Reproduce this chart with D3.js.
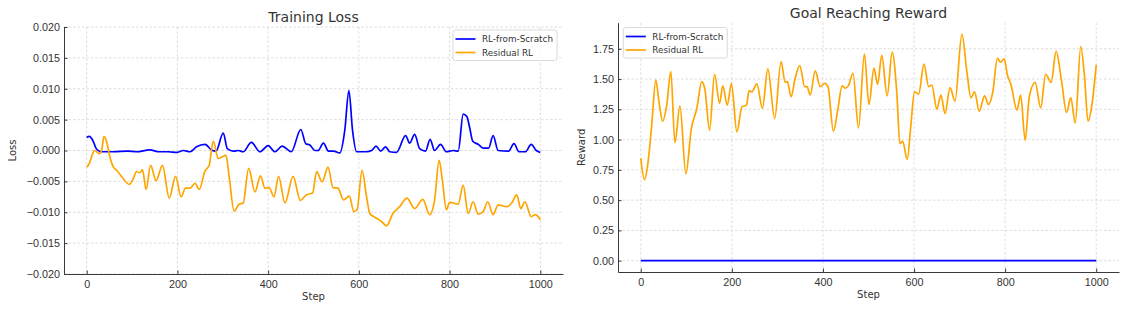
<!DOCTYPE html>
<html lang="en">
<head>
  <meta charset="UTF-8">
  <title>Training Loss / Goal Reaching Reward</title>
  <script src="https://cdn.jsdelivr.net/npm/d3@7"></script>
  <style>
    * { margin: 0; padding: 0; }
    body { background: #fff; }
    svg { display: block; font-family: "DejaVu Sans", sans-serif; }
    .grid line { stroke: #d4d4d4; stroke-width: 0.8; stroke-dasharray: 2.5,2; }
    .axis path, .axis line { stroke: #3a3a3a; }
    .axis text { fill: #333; font-size: 10.8px; }
  </style>
</head>
<body>
  <div id="chart"></div>
  <script>
  // ---- data ----
  var scratchLossStep = [0,6,13,22,33,60,90,110,139,160,180,198,213,228,242,261,275,285,301,310,323,334,345,363,382,400,415,431,451,472,483,492,503,510,522,533,544,558,569,578,586,595,617,628,638,648,659,668,683,703,712,723,734,747,757,767,780,793,808,819,830,838,844,851,863,874,886,896,907,930,942,953,967,980,991,1000];
  var scratchLoss = [0.0021,0.0023,0.0017,0.0002,-0.0002,-0.0002,-0.0001,-0.0002,0.0001,-0.0002,-0.0002,-0.0003,0.0000,-0.0002,0.0006,0.0010,0.0001,-0.0001,0.0028,0.0003,-0.0001,0.0000,-0.0002,0.0013,-0.0002,0.0008,-0.0002,0.0007,-0.0002,0.0034,0.0011,0.0009,0.0000,0.0000,0.0012,-0.0001,-0.0001,-0.0004,0.0033,0.0097,0.0033,-0.0002,-0.0002,0.0000,0.0007,-0.0001,0.0006,-0.0002,-0.0003,0.0024,0.0012,0.0026,0.0003,-0.0001,0.0018,0.0000,0.0010,-0.0002,0.0000,-0.0001,0.0059,0.0055,0.0038,0.0015,0.0010,0.0004,0.0004,0.0024,0.0000,-0.0001,0.0011,-0.0002,-0.0002,0.0010,0.0000,-0.0003];

  var residualLossStep = [0,6,13,18,28,33,38,44,51,59,66,77,94,103,110,117,123,131,141,153,167,182,196,208,218,228,239,248,261,270,279,290,297,307,314,325,336,345,357,371,383,393,402,413,423,437,455,471,484,498,507,519,532,543,554,566,579,589,596,607,617,624,635,650,661,675,690,706,723,741,756,767,777,784,793,800,819,830,841,852,863,874,884,896,907,926,937,948,957,966,980,989,1000];
  var residualLoss = [-0.0027,-0.0021,-0.0005,0.0000,-0.0005,0.0000,0.0023,0.0014,-0.0010,-0.0027,-0.0032,-0.0042,-0.0055,-0.0045,-0.0034,-0.0036,-0.0031,-0.0063,-0.0024,-0.0049,-0.0024,-0.0077,-0.0042,-0.0075,-0.0061,-0.0061,-0.0053,-0.0063,-0.0033,-0.0024,0.0015,-0.0013,-0.0011,-0.0008,-0.0042,-0.0098,-0.0087,-0.0085,-0.0029,-0.0067,-0.0041,-0.0061,-0.0060,-0.0075,-0.0042,-0.0085,-0.0042,-0.0081,-0.0072,-0.0069,-0.0034,-0.0051,-0.0027,-0.0060,-0.0061,-0.0080,-0.0074,-0.0099,-0.0096,-0.0032,-0.0075,-0.0102,-0.0108,-0.0115,-0.0122,-0.0102,-0.0091,-0.0077,-0.0094,-0.0079,-0.0104,-0.0080,-0.0016,-0.0048,-0.0096,-0.0084,-0.0087,-0.0056,-0.0102,-0.0083,-0.0103,-0.0099,-0.0083,-0.0104,-0.0088,-0.0091,-0.0085,-0.0072,-0.0094,-0.0083,-0.0107,-0.0104,-0.0112];

  var scratchRewardStep = [0,200,400,600,800,1000];
  var scratchReward = [0,0,0,0,0,0];

  var residualRewardStep = [0,8,15,24,33,40,48,57,66,75,86,99,111,123,134,141,151,162,173,180,190,199,211,222,232,238,244,255,267,279,294,308,317,322,330,339,349,360,365,372,383,394,404,411,423,433,442,449,456,466,478,491,501,512,520,529,541,552,562,569,575,585,593,601,610,622,632,639,650,659,668,679,690,705,716,725,733,743,755,763,773,783,790,798,805,813,826,834,844,853,866,878,889,901,912,924,935,944,954,966,974,982,991,1000];
  var residualReward = [0.847,0.67,0.786,1.118,1.492,1.312,1.152,1.285,1.562,0.974,1.279,0.717,1.09,1.257,1.479,1.41,1.077,1.54,1.30,1.443,1.285,1.465,1.063,1.27,1.285,1.404,1.395,1.46,1.257,1.584,1.174,1.645,1.473,1.479,1.354,1.506,1.611,1.437,1.437,1.368,1.567,1.437,1.465,1.437,1.069,1.257,1.443,1.424,1.446,1.548,1.096,1.706,1.29,1.59,1.456,1.695,1.362,1.722,1.395,0.966,0.985,0.836,1.118,1.395,1.376,1.623,1.437,1.45,1.251,1.368,1.215,1.429,1.318,1.872,1.562,1.346,1.395,1.235,1.362,1.29,1.395,1.672,1.639,1.667,1.534,1.451,1.243,1.368,0.994,1.354,1.473,1.262,1.54,1.473,1.728,1.479,1.224,1.346,1.138,1.769,1.534,1.152,1.30,1.617];

  var seriesNames = ["RL-from-Scratch", "Residual RL"];
  var seriesColors = ["#0000ff", "#ffa500"];
  var stepTicks = [0, 200, 400, 600, 800, 1000];
  var lossTicks = [-0.02, -0.015, -0.01, -0.005, 0, 0.005, 0.01, 0.015, 0.02];
  var rewardTicks = [0, 0.25, 0.5, 0.75, 1.0, 1.25, 1.5, 1.75];

  function zip(xs, ys) {
    return xs.map(function (x, i) { return {x: x, y: ys[i]}; });
  }

  var W = 1126, H = 309;
  var svg = d3.select("#chart").append("svg")
      .attr("width", W)
      .attr("height", H);

  function panel(opt) {
    var g = svg.append("g");
    var x = d3.scaleLinear().domain([-50, 1050]).range([opt.left, opt.right]);
    var y = d3.scaleLinear().domain(opt.yDomain).range([opt.bottom, opt.top]);

    // grid
    var grid = g.append("g").attr("class", "grid");
    grid.selectAll(".gx").data(stepTicks).enter().append("line")
      .attr("x1", function (d) { return x(d); }).attr("x2", function (d) { return x(d); })
      .attr("y1", opt.top).attr("y2", opt.bottom);
    grid.selectAll(".gy").data(opt.yTicks).enter().append("line")
      .attr("x1", opt.left).attr("x2", opt.right)
      .attr("y1", function (d) { return y(d); }).attr("y2", function (d) { return y(d); });

    // axes (ticks pointing inward)
    g.append("g").attr("class", "axis")
      .attr("transform", "translate(0," + opt.bottom + ")")
      .call(d3.axisBottom(x).tickValues(stepTicks).tickFormat(d3.format("d"))
        .tickSize(-3.5).tickPadding(4).tickSizeOuter(0))
      .selectAll("text").attr("dy", "0.9em");
    g.append("g").attr("class", "axis")
      .attr("transform", "translate(" + opt.left + ",0)")
      .call(d3.axisLeft(y).tickValues(opt.yTicks).tickFormat(opt.fmt).tickSize(-3.5).tickPadding(4).tickSizeOuter(0));

    // lines
    var line = d3.line()
      .x(function (d) { return x(d.x); })
      .y(function (d) { return y(d.y); })
      .curve(d3.curveMonotoneX);
    opt.series.forEach(function (s, i) {
      g.append("path")
        .datum(s)
        .attr("fill", "none")
        .attr("stroke", seriesColors[i])
        .attr("stroke-width", 1.7)
        .attr("stroke-linejoin", "round")
        .attr("d", line);
    });

    // title and labels
    var cx = (opt.left + opt.right) / 2;
    g.append("text").attr("x", cx).attr("y", opt.titleY)
      .attr("text-anchor", "middle").attr("fill", "#333")
      .style("font-size", "14px").text(opt.title);
    g.append("text").attr("x", cx).attr("y", opt.bottom + 26)
      .attr("text-anchor", "middle").attr("fill", "#333")
      .style("font-size", "10px").text("Step");
    g.append("text")
      .attr("transform", "translate(" + opt.yLabelX + "," + (opt.top + opt.bottom) / 2 + ") rotate(-90)")
      .attr("text-anchor", "middle").attr("fill", "#333")
      .style("font-size", "10px").text(opt.yLabel);

    // legend
    var lg = g.append("g").attr("transform", "translate(" + opt.legendX + "," + opt.legendY + ")");
    lg.append("rect")
      .attr("width", 104).attr("height", 30.5).attr("rx", 2.5)
      .attr("fill", "#fff").attr("fill-opacity", 0.8)
      .attr("stroke", "#d0d0d0").attr("stroke-width", 0.8);
    seriesNames.forEach(function (name, i) {
      var yy = 9 + i * 13.5;
      lg.append("line").attr("x1", 2.5).attr("x2", 22.5).attr("y1", yy).attr("y2", yy)
        .attr("stroke", seriesColors[i]).attr("stroke-width", 1.7);
      lg.append("text").attr("x", 29).attr("y", yy + 3.2)
        .attr("fill", "#333").style("font-size", "8.8px").text(name);
    });
  }

  panel({
    left: 64, right: 563, top: 27, bottom: 274,
    yDomain: [-0.02, 0.02], yTicks: lossTicks,
    fmt: d3.format(".3f"),
    series: [zip(scratchLossStep, scratchLoss), zip(residualLossStep, residualLoss)],
    title: "Training Loss", titleY: 21.5,
    yLabel: "Loss", yLabelX: 16,
    legendX: 453, legendY: 30
  });

  panel({
    left: 618, right: 1119, top: 22.7, bottom: 272,
    yDomain: [-0.0936, 1.9656], yTicks: rewardTicks,
    fmt: d3.format(".2f"),
    series: [zip(scratchRewardStep, scratchReward), zip(residualRewardStep, residualReward)],
    title: "Goal Reaching Reward", titleY: 18,
    yLabel: "Reward", yLabelX: 585,
    legendX: 623.3, legendY: 27.5
  });
  </script>
</body>
</html>
